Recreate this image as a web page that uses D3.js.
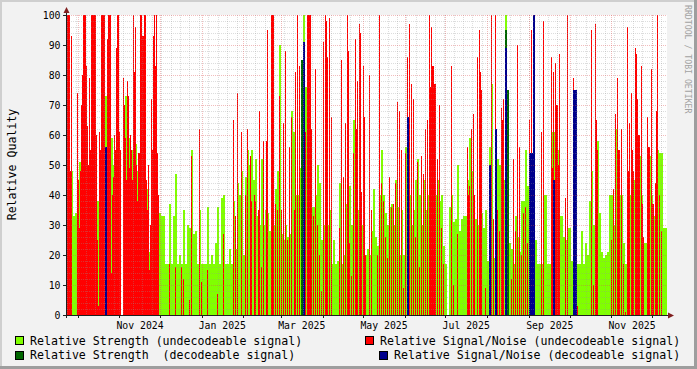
<!DOCTYPE html>
<html><head><meta charset="utf-8">
<script src="https://cdn.jsdelivr.net/npm/d3@7"></script>
<style>html,body{margin:0;padding:0;background:#F2F2F2;} svg{display:block;}</style>
</head><body>
<svg id="c" width="697" height="369"></svg>
<script>
// ---- data ----
const startTime = "2024-09-22T20:00:00Z";
const endTime = "2025-12-11T22:53:00Z";

// strength, 300 consolidated steps
const strengthUndecodeable = [
52,48,48,33,34,35,51,52,54,45, 45,50,55,40,44,38,40,45,50,73,
60,30,59,50,55,45,45,0,50,73, 50,59,55,40,57,48,45,40,45,42,
42,21,40,35,40,30,34,33,33,17, 17,37,17,33,47,17,20,17,35,17,
30,29,55,27,28,17,35,17,17,17, 36,17,20,17,24,36,17,39,40,17,
17,22,17,38,22,44,40,48,20,46, 55,50,55,45,52,33,30,52,30,35,
34,28,34,30,42,48,90,27,25,30, 26,27,68,61,40,40,49,31,100,76,
40,80,36,36,40,50,44,25,30,25, 30,35,17,25,17,18,44,17,20,37,
30,43,30,65,40,35,40,30,25,20, 22,20,28,42,26,23,40,55,40,34,
30,36,37,30,45,36,20,35,20,56, 45,40,30,35,45,52,40,30,45,35,
40,76,40,45,40,45,38,40,23,17, 0,36,40,31,32,50,28,32,33,33,
45,59,48,40,32,30,30,34,29,35, 18,56,77,19,20,52,50,48,45,100,
54,24,22,17,33,26,21,38,38,55, 43,49,40,40,25,17,17,17,40,40,
17,17,61,61,61,55,33,33,26,25, 29,29,18,36,30,17,17,28,17,24,
20,38,48,30,58,58,34,21,19,20, 21,40,40,30,62,23,40,40,24,17,
24,40,55,45,50,45,53,40,24,24, 23,53,40,33,40,55,54,54,29,29
];
// signal/noise, 600 finer steps
const snrUndecodeable = [
100,100, 100,48, 93,0, 0,0, 0,0, 74,45, 29,48, 70,80, 100,100, 100,83,
63,50, 79,55, 100,100, 100,100, 100,60, 25,3, 61,55, 100,100, 100,100, 0,0,
92,100, 100,100, 14,40, 46,60, 55,89, 100,100, 61,55, 0,0, 79,70, 59,45,
78,73, 49,60, 55,45, 100,81, 96,50, 38,54, 54,100, 100,93, 93,100, 100,45,
35,50, 15,30, 72,55, 93,100, 83,100, 54,40, 0,0, 0,0, 0,0, 0,0,
0,0, 17,0, 0,0, 0,0, 16,0, 0,0, 0,0, 16,0, 12,0, 0,0,
0,0, 5,0, 53,0, 0,0, 0,0, 0,0, 62,0, 11,0, 0,0, 0,0,
15,0, 0,0, 0,0, 0,0, 0,0, 7,0, 0,0, 0,0, 27,0, 0,0,
0,0, 0,0, 0,0, 65,0, 33,0, 74,0, 0,0, 61,0, 0,0, 40,0,
62,0, 0,53, 38,0, 0,40, 38,0, 0,35, 68,0, 16,0, 58,0, 0,58,
95,0, 0,0, 100,100, 100,0, 37,0, 35,0, 73,0, 35,0, 64,0, 88,0,
25,0, 56,0, 66,0, 0,35, 81,0, 100,0, 83,0, 0,0, 0,0, 61,0,
100,100, 100,100, 62,0, 33,0, 82,0, 30,0, 20,0, 8,0, 91,0, 100,98,
86,0, 99,0, 66,0, 0,0, 0,0, 0,0, 29,0, 85,0, 46,0, 64,0,
100,88, 24,0, 13,0, 54,0, 92,62, 78,0, 97,94, 41,0, 83,66, 20,0,
0,0, 80,0, 35,0, 0,0, 0,0, 20,0, 100,0, 44,0, 38,0, 26,0,
19,0, 46,0, 36,0, 37,0, 44,0, 71,0, 68,0, 55,0, 9,0, 54,0,
86,0, 97,0, 77,0, 72,0, 26,0, 51,0, 16,0, 53,0, 47,0, 62,0,
65,0, 100,76, 96,83, 83,77, 77,0, 52,0, 70,0, 29,0, 17,0, 0,0,
0,0, 0,0, 83,0, 10,0, 0,0, 27,0, 0,0, 0,0, 0,0, 0,0,
56,40, 43,0, 62,0, 67,40, 0,0, 86,0, 95,81, 75,0, 0,0, 9,0,
0,0, 0,0, 100,0, 32,0, 100,0, 35,0, 28,0, 69,65, 72,0, 65,0,
39,0, 0,0, 12,0, 52,0, 28,0, 90,0, 56,0, 20,0, 34,0, 36,0,
24,0, 65,0, 95,0, 71,0, 0,0, 0,0, 0,0, 61,0, 98,0, 0,0,
0,0, 0,0, 86,49, 81,0, 84,70, 70,50, 87,0, 0,0, 0,0, 39,0,
100,0, 0,0, 0,0, 79,0, 75,0, 3,0, 0,0, 0,0, 0,0, 0,0,
0,0, 0,0, 95,0, 10,0, 97,65, 55,0, 0,0, 0,0, 0,0, 0,0,
0,0, 0,0, 25,0, 42,0, 67,0, 79,55, 55,0, 62,0, 17,0, 1,0,
96,48, 64,0, 74,55, 48,0, 89,87, 72,60, 60,0, 83,37, 26,0, 0,0,
66,56, 56,0, 82,37, 37,0, 44,68, 100,0, 40,0, 28,0, 0,0, 0,0
];
// sparse decodeable series: index on the 300-step grid and value
const strengthDecodeableSteps = [117, 219, 220];
const strengthDecodeableValues = [85, 95, 75];
const snrDecodeableSteps = [19, 118, 170, 211, 214, 219, 231, 232, 233, 243, 253, 254];
const snrDecodeableValues = [56, 91, 66, 50, 62, 89, 54, 54, 100, 45, 75, 75];

const yTicks = [0,10,20,30,40,50,60,70,80,90,100];
const xTickLabels = ["Nov 2024","Jan 2025","Mar 2025","May 2025","Jul 2025","Sep 2025","Nov 2025"];
const legendNames = ["Relative Strength (undecodeable signal)", "Relative Signal/Noise (undecodeable signal)",
                     "Relative Strength  (decodeable signal)", "Relative Signal/Noise (decodeable signal)"];
const colors = ["#80FF00", "#FF0000", "#006600", "#00008C"];

// ---- drawing ----
const svg = d3.select("#c");
const W = 697, H = 369;
const t0 = new Date(startTime), t1 = new Date(endTime);
const x = d3.scaleUtc().domain([t0, t1]).range([67, 667]);
const y = d3.scaleLinear().domain([0, 100]).range([315, 15]);
const mono = "'DejaVu Sans Mono', 'Liberation Mono', monospace";

svg.append("rect").attr("width", W).attr("height", H).attr("fill", "#F2F2F2");
svg.append("rect").attr("x",0).attr("y",0).attr("width",W).attr("height",2).attr("fill","#CFCFCF");
svg.append("rect").attr("x",0).attr("y",0).attr("width",2).attr("height",H).attr("fill","#CFCFCF");
svg.append("rect").attr("x",0).attr("y",H-3).attr("width",W).attr("height",3).attr("fill","#9E9E9E");
svg.append("rect").attr("x",W-3).attr("y",0).attr("width",3).attr("height",H).attr("fill","#9E9E9E");

svg.append("rect").attr("x", 67).attr("y", 15).attr("width", 600).attr("height", 300).attr("fill", "#FFFFFF");

const gData = svg.append("g");
function bars(steps, vals, nSteps, color) {
  const stp = (t1 - t0) / nSteps;
  const px = s => Math.round(x(new Date(+t0 + s * stp)));
  const rows = steps.map((s, k) => ({s, v: vals[k]})).filter(d => d.v > 0);
  gData.append("g").selectAll("rect").data(rows).join("rect")
    .attr("x", d => px(d.s))
    .attr("width", d => Math.max(1, px(d.s + 1) - px(d.s)))
    .attr("y", d => Math.round(y(d.v)))
    .attr("height", d => Math.round(y(0)) - Math.round(y(d.v)))
    .attr("fill", color);
}
const nS = strengthUndecodeable.length, nR = snrUndecodeable.length;
bars(d3.range(nS), strengthUndecodeable, nS, colors[0]);
bars(d3.range(nR), snrUndecodeable, nR, colors[1]);
bars(strengthDecodeableSteps, strengthDecodeableValues, nS, colors[2]);
bars(snrDecodeableSteps, snrDecodeableValues, nS, colors[3]);

// grid over the data, dotted and translucent
const gGrid = svg.append("g").attr("shape-rendering", "crispEdges").attr("stroke-dasharray", "1,1");
const minorCol = "rgba(150,150,150,0.32)", majorCol = "rgba(222,79,79,0.38)";
const minorY = d3.range(0, 101, 2).filter(v => v % 10 !== 0);
gGrid.selectAll(".hm").data(minorY).join("line")
  .attr("x1", 67).attr("x2", 667)
  .attr("y1", d => Math.round(y(d)) + 0.5).attr("y2", d => Math.round(y(d)) + 0.5)
  .attr("stroke", minorCol);
const weeks = d3.utcMonday.range(t0, t1);
gGrid.selectAll(".vm").data(weeks).join("line")
  .attr("x1", d => Math.floor(x(d)) + 0.5).attr("x2", d => Math.floor(x(d)) + 0.5)
  .attr("y1", 15).attr("y2", 315)
  .attr("stroke", minorCol);
gGrid.selectAll(".hM").data(yTicks.filter(v => v > 0)).join("line")
  .attr("x1", 67).attr("x2", 667)
  .attr("y1", d => Math.round(y(d)) + 0.5).attr("y2", d => Math.round(y(d)) + 0.5)
  .attr("stroke", majorCol);
const months = d3.utcMonth.range(t0, t1);
gGrid.selectAll(".vM").data(months).join("line")
  .attr("x1", d => Math.floor(x(d)) + 0.5).attr("x2", d => Math.floor(x(d)) + 0.5)
  .attr("y1", 15).attr("y2", 315)
  .attr("stroke", majorCol);

// axes
const gAx = svg.append("g").attr("shape-rendering", "crispEdges");
gAx.append("line").attr("x1", 63).attr("x2", 668).attr("y1", 315.5).attr("y2", 315.5).attr("stroke", "#1F1F1F");
gAx.append("line").attr("x1", 66.5).attr("x2", 66.5).attr("y1", 12).attr("y2", 318).attr("stroke", "#1F1F1F");
gAx.selectAll(".yt").data(yTicks).join("line")
  .attr("x1", 63).attr("x2", 66).attr("y1", d => Math.round(y(d)) + 0.5).attr("y2", d => Math.round(y(d)) + 0.5)
  .attr("stroke", "#1F1F1F");
gAx.selectAll(".xt").data(months).join("line")
  .attr("x1", d => Math.floor(x(d)) + 0.5).attr("x2", d => Math.floor(x(d)) + 0.5)
  .attr("y1", 316).attr("y2", 318).attr("stroke", "#1F1F1F");
svg.append("path").attr("d", "M63.5,13 L69.5,13 L66.5,7 Z").attr("fill", "#801F1F");
svg.append("path").attr("d", "M668,312.5 L668,318.5 L674,315.5 Z").attr("fill", "#801F1F");

svg.selectAll(".yl").data(yTicks).join("text")
  .attr("x", 60.5).attr("y", d => y(d) + 3.6)
  .attr("text-anchor", "end").attr("font-family", mono).attr("font-size", 9.8).attr("fill", "#000")
  .text(d => d);

const parseMonth = d3.utcParse("%b %Y");
svg.selectAll(".xl").data(xTickLabels).join("text")
  .attr("x", d => x(d3.utcDay.offset(parseMonth(d), 15)))
  .attr("y", 328.5)
  .attr("text-anchor", "middle").attr("font-family", mono).attr("font-size", 9.8).attr("fill", "#000")
  .text(d => d);

svg.append("text").attr("transform", "translate(15.5,164.5) rotate(-90)")
  .attr("text-anchor", "middle").attr("font-family", mono).attr("font-size", 11.6).attr("fill", "#000")
  .text("Relative Quality");

svg.append("text").attr("transform", "translate(684.5,5) rotate(90)")
  .attr("font-family", mono).attr("font-size", 8.2).attr("fill", "#A2A2A2")
  .text("RRDTOOL / TOBI OETIKER");

const legendPos = [
  {bx: 15.5, by: 336.5, tx: 30, ty: 345},
  {bx: 365.5, by: 336.5, tx: 380, ty: 345},
  {bx: 15.5, by: 351.5, tx: 30, ty: 359},
  {bx: 379.5, by: 351.5, tx: 394, ty: 359}
];
const lg = svg.append("g");
legendNames.forEach((name, i) => {
  const p = legendPos[i];
  lg.append("rect").attr("x", p.bx).attr("y", p.by).attr("width", 8).attr("height", 8)
    .attr("fill", colors[i]).attr("stroke", "#000").attr("stroke-width", 1).attr("shape-rendering", "crispEdges");
  lg.append("text").attr("x", p.tx).attr("y", p.ty)
    .attr("font-family", mono).attr("font-size", 11.6).attr("fill", "#000")
    .style("white-space", "pre").text(name);
});
</script>
</body></html>
